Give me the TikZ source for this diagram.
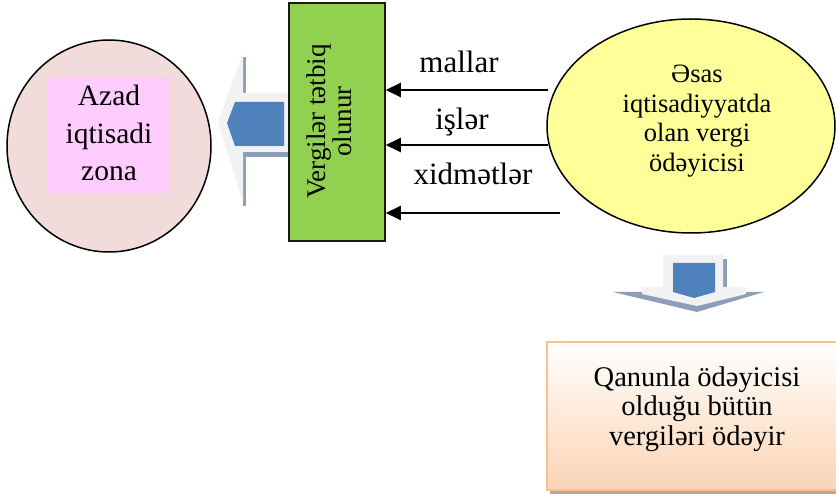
\documentclass[tikz,border=0pt]{standalone}
\usepackage{fontspec}
\setmainfont{Liberation Serif}
\usetikzlibrary{arrows.meta,shapes.geometric}
\definecolor{pinkfill}{HTML}{F2DCDB}
\definecolor{pinkinner}{HTML}{FFCCFF}
\definecolor{greenfill}{HTML}{92D050}
\definecolor{yellowfill}{HTML}{FFFF99}
\definecolor{arrowlight}{HTML}{F2F2F2}
\definecolor{arrowshadow}{HTML}{8C9EB8}
\definecolor{arrowblue}{HTML}{4F81BD}
\definecolor{orangeborder}{HTML}{FAC090}
\definecolor{peach}{HTML}{FBD4B4}
\definecolor{boxshadow}{HTML}{BFA68C}
\tikzset{
  flowarrow/.style={-{Triangle[length=15,width=14]}, line width=2},
  lbl/.style={anchor=base, font=\fontsize{31}{33}\selectfont, inner sep=0},
}
\begin{document}
\begin{tikzpicture}[x=1pt,y=-1pt]
\useasboundingbox (0,0) rectangle (836,494);

% left circle
\node (zone) [ellipse, draw, line width=1.5, fill=pinkfill, minimum width=204, minimum height=212, inner sep=0] at (109,146) {};
\node (zonebox) [fill=pinkinner, minimum width=122, minimum height=116, inner sep=0] at (109,135) {};
\node (zonetext) [align=center, font=\fontsize{29.5}{37.5}\selectfont, inner sep=0] at (109,133) {Azad\\iqtisadi\\zona};

% left block arrow
\fill[arrowshadow] (243,57) rectangle (246,96);
\fill[arrowshadow] (243,152) rectangle (246,206);
\fill[arrowshadow] (243,152) rectangle (294,157);
\fill[arrowlight] (243,53) -- (218,122) -- (243,203) -- (243,152) -- (292,152) -- (292,93) -- (243,93) -- cycle;
\fill[arrowblue] (227,123) -- (235,102) -- (284,102) -- (284,146) -- (235,146) -- cycle;

% green box
\node (apply) [draw=black!90, line width=1.5, fill=greenfill, minimum width=96, minimum height=238, inner sep=0] at (337,122) {};
\node (applytext) [rotate=90, align=center, font=\fontsize{27}{20}\selectfont, inner sep=0] at (329,121.5) {Vergilər tətbiq\\olunur};

% right ellipse
\node (payer) [ellipse, draw, line width=1.5, fill=yellowfill, minimum width=288, minimum height=214, inner sep=0] at (691,126) {};
\node (payertext) [align=center, font=\fontsize{26.5}{29.7}\selectfont, inner sep=0] at (697,121) {Əsas\\iqtisadiyyatda\\olan vergi\\ödəyicisi};

% flow arrows
\coordinate (s1) at (548,90);
\coordinate (s2) at (548,145);
\coordinate (s3) at (560,213);
\draw[flowarrow] (s1) -- (s1 -| apply.east);
\draw[flowarrow] (s2) -- (s2 -| apply.east);
\draw[flowarrow] (s3) -- (s3 -| apply.east);
\node (l1) [lbl] at (459,73) {mallar};
\node (l2) [lbl] at (462,130) {işlər};
\node (l3) [lbl] at (473,185) {xidmətlər};

% bottom block arrow
\fill[arrowshadow] (613,292) -- (764,292) -- (697,312) -- cycle;
\fill[arrowshadow] (723,259) -- (727,259) -- (727,288) -- (723,288) -- cycle;
\fill[arrowlight] (663,255) -- (723,255) -- (723,287) -- (746,287) -- (746,294) -- (697,306) -- (642,294) -- (642,287) -- (663,287) -- cycle;
\fill[arrowblue] (673,263) -- (715,263) -- (715,292) -- (694,298) -- (673,292) -- cycle;

% bottom box
\fill[boxshadow] (550,491) rectangle (840,494);
\node (law) [draw=orangeborder, line width=1.5, top color=white, bottom color=peach, minimum width=293, minimum height=148, inner sep=0] at (693.5,416) {};
\node (lawtext) [align=center, font=\fontsize{28.5}{29.5}\selectfont, inner sep=0] at (697,409) {Qanunla ödəyicisi\\olduğu bütün\\vergiləri ödəyir};
\end{tikzpicture}
\end{document}
